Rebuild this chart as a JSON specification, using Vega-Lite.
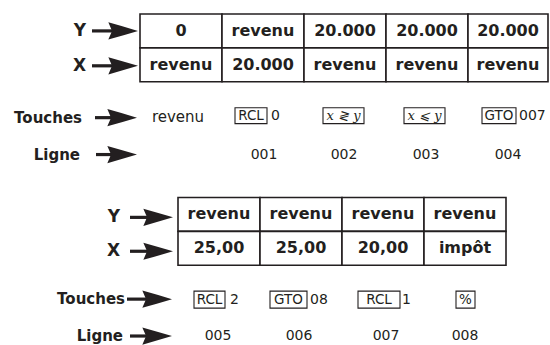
{
  "$schema": "https://vega.github.io/schema/vega-lite/v6.json",
  "width": 550,
  "height": 345,
  "padding": 0,
  "autosize": {"type": "fit", "contains": "padding"},
  "background": "white",
  "config": {"view": {"stroke": null}},
  "datasets": {
    "cells": [
      {"x1": 140, "x2": 222, "y1": 14, "y2": 48, "cx": 181, "cy": 31, "t": "0"},
      {"x1": 222, "x2": 304, "y1": 14, "y2": 48, "cx": 263, "cy": 31, "t": "revenu"},
      {"x1": 304, "x2": 386, "y1": 14, "y2": 48, "cx": 345, "cy": 31, "t": "20.000"},
      {"x1": 386, "x2": 468, "y1": 14, "y2": 48, "cx": 427, "cy": 31, "t": "20.000"},
      {"x1": 468, "x2": 548, "y1": 14, "y2": 48, "cx": 508, "cy": 31, "t": "20.000"},
      {"x1": 140, "x2": 222, "y1": 48, "y2": 82, "cx": 181, "cy": 65, "t": "revenu"},
      {"x1": 222, "x2": 304, "y1": 48, "y2": 82, "cx": 263, "cy": 65, "t": "20.000"},
      {"x1": 304, "x2": 386, "y1": 48, "y2": 82, "cx": 345, "cy": 65, "t": "revenu"},
      {"x1": 386, "x2": 468, "y1": 48, "y2": 82, "cx": 427, "cy": 65, "t": "revenu"},
      {"x1": 468, "x2": 548, "y1": 48, "y2": 82, "cx": 508, "cy": 65, "t": "revenu"},
      {"x1": 178, "x2": 260, "y1": 198, "y2": 232, "cx": 219, "cy": 215, "t": "revenu"},
      {"x1": 260, "x2": 342, "y1": 198, "y2": 232, "cx": 301, "cy": 215, "t": "revenu"},
      {"x1": 342, "x2": 424, "y1": 198, "y2": 232, "cx": 383, "cy": 215, "t": "revenu"},
      {"x1": 424, "x2": 506, "y1": 198, "y2": 232, "cx": 465, "cy": 215, "t": "revenu"},
      {"x1": 178, "x2": 260, "y1": 232, "y2": 266, "cx": 219, "cy": 249, "t": "25,00"},
      {"x1": 260, "x2": 342, "y1": 232, "y2": 266, "cx": 301, "cy": 249, "t": "25,00"},
      {"x1": 342, "x2": 424, "y1": 232, "y2": 266, "cx": 383, "cy": 249, "t": "20,00"},
      {"x1": 424, "x2": 506, "y1": 232, "y2": 266, "cx": 465, "cy": 249, "t": "impôt"}
    ],
    "bigLabels": [
      {"x": 86, "y": 31, "t": "Y"},
      {"x": 86, "y": 66, "t": "X"},
      {"x": 120, "y": 218, "t": "Y"},
      {"x": 120, "y": 252, "t": "X"}
    ],
    "rowLabels": [
      {"x": 82, "y": 118, "t": "Touches"},
      {"x": 80, "y": 155, "t": "Ligne"},
      {"x": 125, "y": 300, "t": "Touches"},
      {"x": 123, "y": 337, "t": "Ligne"}
    ],
    "arrows": [
      {"xs": 92, "xh": 115, "xe": 138, "y": 31},
      {"xs": 92, "xh": 115, "xe": 138, "y": 66},
      {"xs": 95, "xh": 114, "xe": 137, "y": 118},
      {"xs": 96, "xh": 114, "xe": 137, "y": 155},
      {"xs": 130, "xh": 150, "xe": 173, "y": 218},
      {"xs": 130, "xh": 150, "xe": 173, "y": 252},
      {"xs": 127, "xh": 149, "xe": 172, "y": 300},
      {"xs": 130, "xh": 149, "xe": 172, "y": 337}
    ],
    "keys": [
      {"x1": 235, "x2": 267, "y1": 108, "y2": 124, "cx": 251, "cy": 116.5, "t": "RCL", "f": "sans"},
      {"x1": 323, "x2": 364, "y1": 108, "y2": 124, "cx": 343.5, "cy": 116.5, "t": "x ≷ y", "f": "serif"},
      {"x1": 404, "x2": 445, "y1": 108, "y2": 124, "cx": 424.5, "cy": 116.5, "t": "x ⩽ y", "f": "serif"},
      {"x1": 482, "x2": 516, "y1": 108, "y2": 124, "cx": 499, "cy": 116.5, "t": "GTO", "f": "sans"},
      {"x1": 194, "x2": 225, "y1": 292, "y2": 309, "cx": 209.5, "cy": 301, "t": "RCL", "f": "sans"},
      {"x1": 270, "x2": 307, "y1": 292, "y2": 309, "cx": 288.5, "cy": 301, "t": "GTO", "f": "sans"},
      {"x1": 358, "x2": 400, "y1": 292, "y2": 309, "cx": 379, "cy": 301, "t": "RCL", "f": "sans"},
      {"x1": 456, "x2": 475, "y1": 292, "y2": 309, "cx": 465.5, "cy": 301, "t": "%", "f": "sans"}
    ],
    "after": [
      {"x": 271, "y": 116.5, "t": "0"},
      {"x": 519, "y": 116.5, "t": "007"},
      {"x": 230, "y": 301, "t": "2"},
      {"x": 310, "y": 301, "t": "08"},
      {"x": 402, "y": 301, "t": "1"}
    ],
    "plain": [
      {"x": 178, "y": 117, "t": "revenu", "s": 15},
      {"x": 264, "y": 155, "t": "001", "s": 14},
      {"x": 344, "y": 155, "t": "002", "s": 14},
      {"x": 426, "y": 155, "t": "003", "s": 14},
      {"x": 508, "y": 155, "t": "004", "s": 14},
      {"x": 218, "y": 337, "t": "005", "s": 14},
      {"x": 299, "y": 337, "t": "006", "s": 14},
      {"x": 386, "y": 337, "t": "007", "s": 14},
      {"x": 465, "y": 337, "t": "008", "s": 14}
    ]
  },
  "layer": [
    {
      "data": {"name": "cells"},
      "mark": {"type": "rect", "fill": "white", "stroke": "#231f20", "strokeWidth": 1.6},
      "encoding": {
        "x": {"field": "x1", "type": "quantitative", "axis": null, "scale": {"domain": [0, 550], "nice": false, "zero": false}},
        "x2": {"field": "x2"},
        "y": {"field": "y1", "type": "quantitative", "axis": null, "scale": {"domain": [0, 345], "nice": false, "zero": false, "reverse": true}},
        "y2": {"field": "y2"}
      }
    },
    {
      "data": {"name": "cells"},
      "mark": {"type": "text", "font": "DejaVu Sans", "fontWeight": "bold", "fontSize": 16, "color": "#231f20", "align": "center", "baseline": "middle"},
      "encoding": {
        "x": {"field": "cx", "type": "quantitative"},
        "y": {"field": "cy", "type": "quantitative"},
        "text": {"field": "t"}
      }
    },
    {
      "data": {"name": "bigLabels"},
      "mark": {"type": "text", "font": "DejaVu Sans", "fontWeight": "bold", "fontSize": 17, "color": "#231f20", "align": "right", "baseline": "middle"},
      "encoding": {
        "x": {"field": "x", "type": "quantitative"},
        "y": {"field": "y", "type": "quantitative"},
        "text": {"field": "t"}
      }
    },
    {
      "data": {"name": "rowLabels"},
      "mark": {"type": "text", "font": "DejaVu Sans", "fontWeight": "bold", "fontSize": 15, "color": "#231f20", "align": "right", "baseline": "middle"},
      "encoding": {
        "x": {"field": "x", "type": "quantitative"},
        "y": {"field": "y", "type": "quantitative"},
        "text": {"field": "t"}
      }
    },
    {
      "data": {"name": "arrows"},
      "mark": {"type": "rule", "color": "#231f20", "strokeWidth": 3.2, "strokeCap": "butt"},
      "encoding": {
        "x": {"field": "xs", "type": "quantitative"},
        "x2": {"field": "xh"},
        "y": {"field": "y", "type": "quantitative"}
      }
    },
    {
      "data": {"name": "arrows"},
      "mark": {"type": "point", "shape": "M0,0 Q-1,-0.3 -2,-0.58 L-1.75,0 L-2,0.58 Q-1,0.3 0,0 Z", "filled": true, "size": 880, "color": "#231f20", "opacity": 1, "strokeWidth": 0},
      "encoding": {
        "x": {"field": "xe", "type": "quantitative"},
        "y": {"field": "y", "type": "quantitative"}
      }
    },
    {
      "data": {"name": "keys"},
      "mark": {"type": "rect", "fill": "white", "stroke": "#231f20", "strokeWidth": 1.1},
      "encoding": {
        "x": {"field": "x1", "type": "quantitative"},
        "x2": {"field": "x2"},
        "y": {"field": "y1", "type": "quantitative"},
        "y2": {"field": "y2"}
      }
    },
    {
      "data": {"name": "keys"},
      "transform": [{"filter": "datum.f == 'sans'"}],
      "mark": {"type": "text", "font": "DejaVu Sans", "fontSize": 13.5, "color": "#231f20", "align": "center", "baseline": "middle"},
      "encoding": {
        "x": {"field": "cx", "type": "quantitative"},
        "y": {"field": "cy", "type": "quantitative"},
        "text": {"field": "t"}
      }
    },
    {
      "data": {"name": "keys"},
      "transform": [{"filter": "datum.f == 'serif'"}],
      "mark": {"type": "text", "font": "DejaVu Serif", "fontStyle": "italic", "fontSize": 13, "color": "#231f20", "align": "center", "baseline": "middle"},
      "encoding": {
        "x": {"field": "cx", "type": "quantitative"},
        "y": {"field": "cy", "type": "quantitative"},
        "text": {"field": "t"}
      }
    },
    {
      "data": {"name": "after"},
      "mark": {"type": "text", "font": "DejaVu Sans", "fontSize": 14, "color": "#231f20", "align": "left", "baseline": "middle"},
      "encoding": {
        "x": {"field": "x", "type": "quantitative"},
        "y": {"field": "y", "type": "quantitative"},
        "text": {"field": "t"}
      }
    },
    {
      "data": {"name": "plain"},
      "mark": {"type": "text", "font": "DejaVu Sans", "color": "#231f20", "align": "center", "baseline": "middle"},
      "encoding": {
        "x": {"field": "x", "type": "quantitative"},
        "y": {"field": "y", "type": "quantitative"},
        "text": {"field": "t"},
        "size": {"field": "s", "type": "quantitative", "scale": null}
      }
    }
  ]
}
